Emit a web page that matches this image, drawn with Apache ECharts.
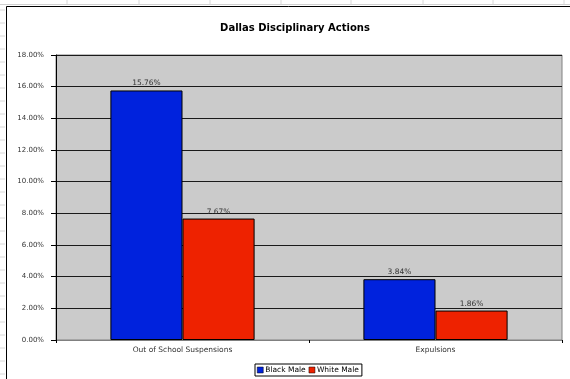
<!DOCTYPE html>
<html><head><meta charset="utf-8">
<script src="https://cdn.jsdelivr.net/npm/echarts@6/dist/echarts.min.js"></script>
<style>html,body{margin:0;padding:0;background:#fff}#c{width:570px;height:379px}</style>
</head><body><div id="c"></div>
<script>
const title = 'Dallas Disciplinary Actions';
const categories = ['Out of School Suspensions', 'Expulsions'];
const seriesNames = ['Black Male', 'White Male'];
const blackMale = [15.76, 3.84];
const whiteMale = [7.67, 1.86];
const yTicks = [0, 2, 4, 6, 8, 10, 12, 14, 16, 18];

const FONT = 'DejaVu Sans';
const chart = echarts.init(document.getElementById('c'), null, {renderer: 'canvas'});

const decor = [];
// spreadsheet gridlines behind the chart object
[67, 139, 210, 281, 351, 423, 493, 564].forEach(x => decor.push({type: 'line', shape: {x1: x, y1: 0, x2: x, y2: 5}, style: {stroke: '#d8d8d8', lineWidth: 1}, z: 0}));
for (let y = 10; y < 379; y += 13) decor.push({type: 'line', shape: {x1: 0, y1: y, x2: 5, y2: y}, style: {stroke: '#d8d8d8', lineWidth: 1}, z: 0});
decor.push({type: 'line', shape: {x1: 0, y1: 4.5, x2: 570, y2: 4.5}, style: {stroke: '#d0d0d0', lineWidth: 1}, z: 0});
// chart object frame
decor.push({type: 'rect', shape: {x: 6.5, y: 6.5, width: 600, height: 400}, style: {fill: '#fff', stroke: '#000', lineWidth: 1}, z: -1});

chart.setOption({
  animation: false,
  backgroundColor: '#fff',
  graphic: decor,
  title: {text: title, left: 290, top: 18, textAlign: 'center',
    textStyle: {fontFamily: FONT, fontSize: 10, fontWeight: 'bold', color: '#000'}},
  legend: {
    data: seriesNames, left: 255, top: 364, orient: 'horizontal',
    borderColor: '#000', borderWidth: 1, padding: [2, 3, 2, 2], itemGap: 3,
    itemWidth: 6, itemHeight: 6, icon: 'rect',
    itemStyle: {borderColor: '#000', borderWidth: 0.5},
    textStyle: {fontFamily: FONT, fontSize: 7.5, color: '#000', padding: [0, 0, 0, -3]}
  },
  grid: {left: 56, right: 8, top: 55, bottom: 39, show: true,
    backgroundColor: '#cbcbcb', borderColor: '#808080', borderWidth: 1},
  xAxis: {
    type: 'category', data: categories,
    axisLine: {show: true, lineStyle: {color: '#808080', width: 1}},
    axisTick: {show: true, length: 3, alignWithLabel: false, lineStyle: {color: '#000'}},
    axisLabel: {fontFamily: FONT, fontSize: 7.5, color: '#333', margin: 6}
  },
  yAxis: {
    type: 'value', min: 0, max: 18, interval: 2,
    axisLine: {show: true, lineStyle: {color: '#000', width: 1}},
    axisTick: {show: true, length: 5, inside: false, lineStyle: {color: '#000'}},
    splitLine: {show: true, lineStyle: {color: '#1a1a1a', width: 1}},
    axisLabel: {fontFamily: FONT, fontSize: 7, color: '#333', margin: 12,
      formatter: v => yTicks.includes(v) ? v.toFixed(2) + '%' : ''}
  },
  series: [
    {name: seriesNames[0], type: 'bar', data: blackMale, barGap: '0%', barCategoryGap: '43%',
      itemStyle: {color: '#0022dd', borderColor: '#000', borderWidth: 1},
      label: {show: true, position: 'top', distance: 3, fontFamily: FONT, fontSize: 7.5, color: '#333',
        formatter: p => p.value.toFixed(2) + '%'}},
    {name: seriesNames[1], type: 'bar', data: whiteMale, barGap: '0%', barCategoryGap: '43%',
      itemStyle: {color: '#ee2200', borderColor: '#000', borderWidth: 1},
      label: {show: true, position: 'top', distance: 3, fontFamily: FONT, fontSize: 7.5, color: '#333',
        formatter: p => p.value.toFixed(2) + '%'}}
  ]
});
</script></body></html>
